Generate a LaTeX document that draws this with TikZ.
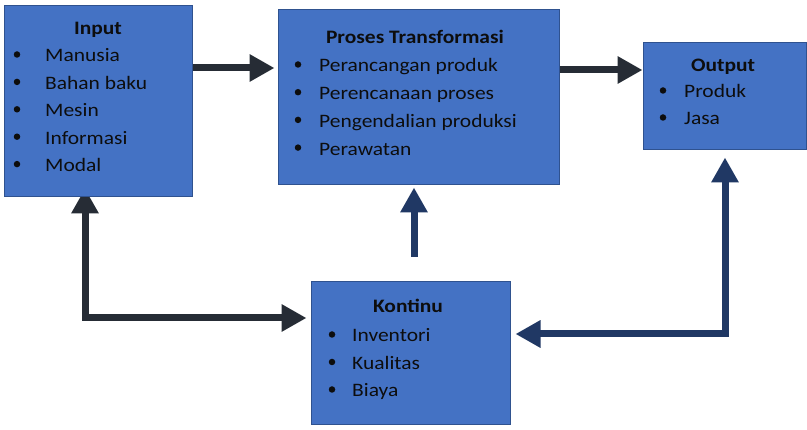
\documentclass[tikz,border=0pt]{standalone}
\usepackage{fontspec}
\setmainfont[FakeStretch=1.13]{Carlito}
\usetikzlibrary{arrows.meta,calc}
\pgfdeclarelayer{background}
\pgfsetlayers{background,main}
\definecolor{boxfill}{HTML}{4472C4}
\definecolor{boxline}{HTML}{2F528F}
\definecolor{darkarrow}{HTML}{262C35}
\definecolor{bluearrow}{HTML}{203864}
\definecolor{ink}{HTML}{0D0D0D}
\tikzset{
  block/.style={draw=boxline, line width=1pt, fill=boxfill, inner sep=0pt},
  title/.style={anchor=base, font=\fontsize{19}{23}\selectfont\bfseries, text=ink, inner sep=0pt},
  item/.style={anchor=base west, font=\fontsize{19}{23}\selectfont, text=ink, inner sep=0pt},
  dot/.style={circle, fill=ink, inner sep=0pt, minimum size=6.5pt},
  tri/.tip={Triangle[length=25pt, width=26pt]},
  flow/.style={line width=7pt, draw=#1},
}
\begin{document}
\begin{tikzpicture}[x=1pt, y=-1pt]
\useasboundingbox (0,0) rectangle (807,430);

% boxes
\node[block, minimum width=188pt, minimum height=191pt] (in) at (98,101.5) {};
\node[block, minimum width=281pt, minimum height=175pt] (pro) at (418.5,97.5) {};
\node[block, minimum width=163pt, minimum height=107pt] (out) at (724.5,96.5) {};
\node[block, minimum width=199pt, minimum height=143pt] (kont) at (410.5,353.5) {};

% titles
\node[title] (in-title) at (98,35) {Input};
\node[title] (pro-title) at (415,44) {Proses Transformasi};
\node[title] (out-title) at (723,72) {Output};
\node[title] (kont-title) at (408,313) {Kontinu};

% bullet lists
\foreach \t [count=\i] in {Manusia, Bahan baku, Mesin, Informasi, Modal} {
  \node[item] (in-t\i) at ({45},{62+27.4*(\i-1)}) {\t};
  \node[dot] (in-b\i) at ({17},{62+27.4*(\i-1)-7.5}) {};
}
\foreach \t [count=\i] in {Perancangan produk, Perencanaan proses, Pengendalian produksi, Perawatan} {
  \node[item] (pro-t\i) at ({319},{72+27.7*(\i-1)}) {\t};
  \node[dot] (pro-b\i) at ({298},{72+27.7*(\i-1)-7.5}) {};
}
\foreach \t [count=\i] in {Produk, Jasa} {
  \node[item] (out-t\i) at ({684},{98+27*(\i-1)}) {\t};
  \node[dot] (out-b\i) at ({663},{98+27*(\i-1)-7.5}) {};
}
\foreach \t [count=\i] in {Inventori, Kualitas, Biaya} {
  \node[item] (kont-t\i) at ({352},{342+27.5*(\i-1)}) {\t};
  \node[dot] (kont-b\i) at ({332},{342+27.5*(\i-1)-7.5}) {};
}

% routing points
\coordinate (row1) at (0,68);
\coordinate (row2) at (0,70);
\coordinate (kp) at (414,257);
\coordinate (c1) at (85,318);
\coordinate (c2) at (725,334);

% connectors, kept behind the boxes
\begin{pgfonlayer}{background}
\draw[flow=darkarrow, -tri, shorten >=3pt] (in.east |- row1) -- (pro.west |- row1);
\draw[flow=darkarrow, -tri] (pro.east |- row2) -- (out.west |- row2);
\draw[flow=bluearrow, -tri, shorten >=2pt] (kp) -- (kp |- pro.south);
\draw[flow=darkarrow, tri-tri, shorten <=-9pt, shorten >=4pt] (c1 |- in.south) -- (c1) -- (c1 -| kont.west);
\draw[flow=bluearrow, tri-tri, shorten <=5pt, shorten >=7pt] (kont.east |- c2) -- (c2) -- (c2 |- out.south);
\end{pgfonlayer}
\end{tikzpicture}
\end{document}
